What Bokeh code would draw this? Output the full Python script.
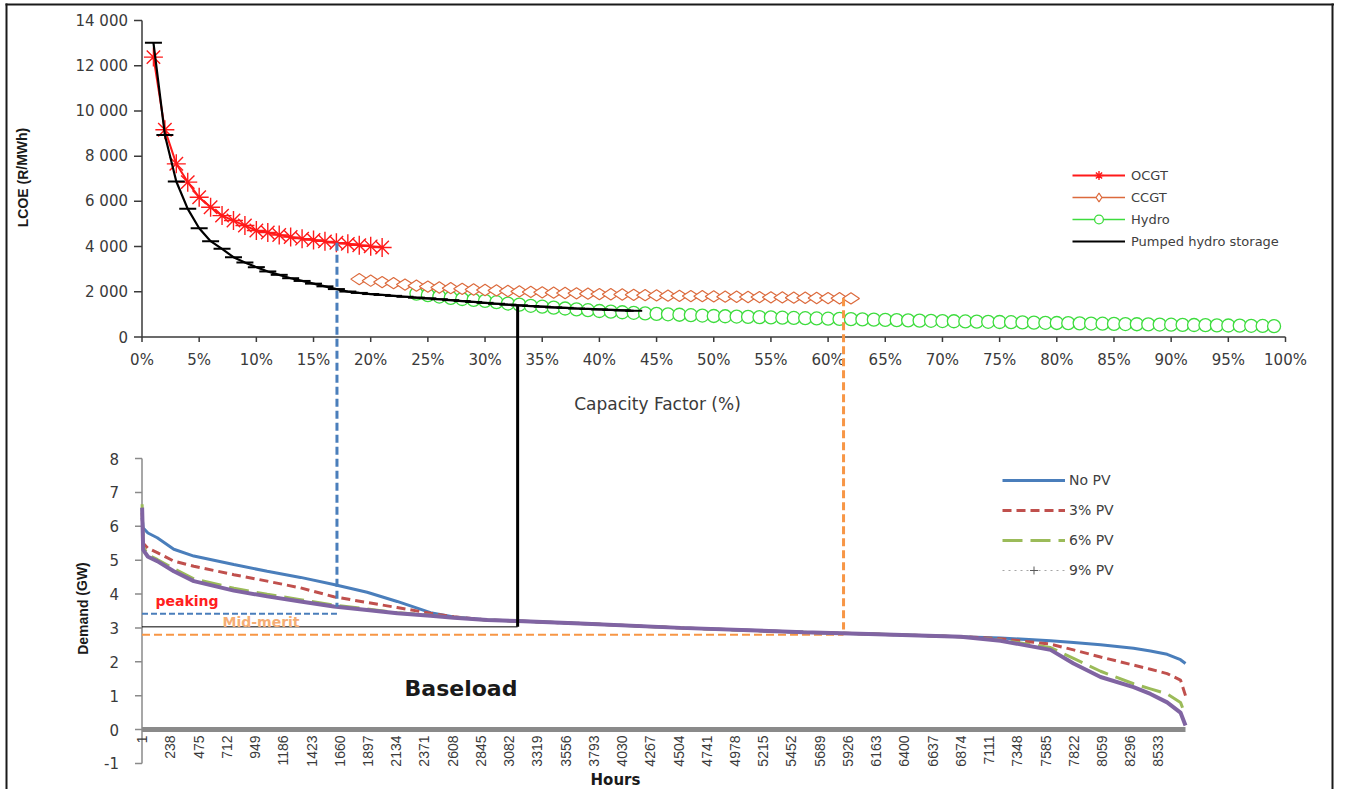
import numpy as np
from bokeh.plotting import figure
from bokeh.models import Range1d, Legend, LegendItem
from bokeh.core.properties import value
from bokeh.embed import file_html
from bokeh.resources import INLINE

# ---------------- top chart: LCOE (R/MWh) vs capacity factor (%) ----------------
ocgt_cf = [1, 2, 3, 4, 5, 6, 7, 8, 9, 10, 11, 12, 13, 14, 15, 16, 17, 18, 19, 20, 21]
ocgt_lcoe = [12380, 9170, 7660, 6850, 6180, 5740, 5370, 5150, 4930, 4710, 4620,
             4510, 4420, 4350, 4290, 4230, 4170, 4120, 4060, 4010, 3960]

phs_cf = list(range(1, 44))
phs_lcoe = [13020, 8940, 6880, 5670, 4810, 4240, 3900, 3530, 3300, 3090,
            2900, 2750, 2600, 2480, 2360, 2240, 2120, 2010, 1950, 1900,
            1860, 1820, 1780, 1740, 1710, 1670, 1630, 1590, 1550, 1510,
            1470, 1430, 1400, 1370, 1340, 1310, 1290, 1260, 1240, 1220,
            1200, 1180, 1160]

ccgt_cf = list(range(19, 63))
ccgt_lcoe = [2560, 2490, 2430, 2380, 2320, 2270, 2230, 2190, 2160, 2130,
             2100, 2080, 2060, 2035, 2015, 1995, 1975, 1960, 1945, 1930,
             1915, 1900, 1890, 1880, 1865, 1850, 1840, 1830, 1820, 1810,
             1805, 1795, 1785, 1780, 1770, 1765, 1755, 1750, 1740, 1735,
             1725, 1720, 1715, 1705]

hydro_cf = list(range(24, 100))
hydro_lcoe = [1920, 1850, 1790, 1730, 1680, 1640, 1600, 1540, 1480, 1430,
              1380, 1340, 1300, 1260, 1220, 1185, 1150, 1120, 1095, 1070,
              1045, 1025, 1005, 985, 965, 948, 930, 917, 904, 891,
              878, 866, 854, 842, 831, 820, 810, 800, 790, 779,
              768, 757, 746, 736, 726, 716, 706, 696, 688, 680,
              672, 664, 655, 646, 637, 628, 620, 612, 604, 596,
              588, 580, 572, 565, 558, 551, 544, 537, 530, 523,
              516, 509, 502, 495, 488, 481]

lcoe_ticks = [0, 2000, 4000, 6000, 8000, 10000, 12000, 14000]
lcoe_tick_labels = ["0", "2 000", "4 000", "6 000", "8 000", "10 000", "12 000", "14 000"]
cf_ticks = [0, 5, 10, 15, 20, 25, 30, 35, 40, 45, 50, 55, 60, 65, 70, 75, 80, 85, 90, 95, 100]
cf_tick_labels = ["0%", "5%", "10%", "15%", "20%", "25%", "30%", "35%", "40%", "45%", "50%",
                  "55%", "60%", "65%", "70%", "75%", "80%", "85%", "90%", "95%", "100%"]

# ---------------- bottom chart: load duration curves (GW) ----------------
hours = [1, 10, 50, 128, 267, 435, 771, 1051, 1331, 1610, 1890, 2142, 2422, 2618, 2898,
         3153, 3681, 4521, 5551, 6100, 6874, 7207, 7627, 7820, 8047, 8324, 8466, 8606, 8718, 8760]
no_pv = [6.25, 5.95, 5.80, 5.66, 5.32, 5.12, 4.87, 4.67, 4.49, 4.28, 4.05, 3.78, 3.45, 3.32, 3.23,
         3.20, 3.13, 3.00, 2.87, 2.82, 2.74, 2.70, 2.62, 2.57, 2.50, 2.40, 2.32, 2.22, 2.06, 1.95]
pv3 = [6.40, 5.50, 5.35, 5.22, 4.97, 4.82, 4.57, 4.38, 4.18, 3.92, 3.75, 3.60, 3.43, 3.33, 3.23,
       3.20, 3.13, 3.00, 2.87, 2.82, 2.74, 2.68, 2.52, 2.35, 2.14, 1.90, 1.78, 1.65, 1.46, 1.00]
pv6 = [6.65, 5.40, 5.15, 5.02, 4.75, 4.45, 4.17, 3.99, 3.83, 3.67, 3.56, 3.45, 3.37, 3.31, 3.23,
       3.20, 3.13, 3.00, 2.87, 2.82, 2.74, 2.64, 2.42, 2.10, 1.72, 1.35, 1.20, 1.05, 0.80, 0.42]
pv9 = [6.55, 5.30, 5.10, 4.97, 4.67, 4.38, 4.10, 3.93, 3.78, 3.63, 3.53, 3.43, 3.36, 3.30, 3.23,
       3.20, 3.13, 3.00, 2.87, 2.82, 2.74, 2.62, 2.35, 1.95, 1.55, 1.25, 1.05, 0.80, 0.50, 0.12]

gw_ticks = [-1, 0, 1, 2, 3, 4, 5, 6, 7, 8]
gw_tick_labels = ["-1", "0", "1", "2", "3", "4", "5", "6", "7", "8"]
hour_ticks = [1, 238, 475, 712, 949, 1186, 1423, 1660, 1897, 2134, 2371, 2608, 2845, 3082,
              3319, 3556, 3793, 4030, 4267, 4504, 4741, 4978, 5215, 5452, 5689, 5926, 6163,
              6400, 6637, 6874, 7111, 7348, 7585, 7822, 8059, 8296, 8533]
hour_tick_labels = [str(h) for h in hour_ticks]

# connectors: (capacity factor, LCOE at top, GW at bottom, GW level of horizontal)
peak_cf, peak_top, peak_bottom, peak_level = 17.05, 4170, 3.62, 3.42
base_cf, base_top, base_bottom, base_level = 32.85, 1400, 3.03, 3.03
mid_cf, mid_top, mid_bottom, mid_level = 61.35, 1710, 2.95, 2.80

# ---------------- layout (canvas pixels) ----------------
W, H = 1334, 789
CF_PX = (141.5, 1285.0)     # canvas x of 0 % and 100 %
LCOE_PX = (336.5, 20.0)     # canvas y of 0 and 14000
HRS_PX = (141.5, 1185.0)    # canvas x of hour 0 and 8760
GW_PX = (729.0, 458.0)      # canvas y of 0 GW and 8 GW


def x_rng(v0, v1, p0, p1):
    s = (p1 - p0) / (v1 - v0)
    return Range1d(v0 - p0 / s, v0 + (W - p0) / s)


def y_rng(v0, v1, p0, p1):
    s = (p0 - p1) / (v1 - v0)
    return Range1d(v0 - (H - p0) / s, v0 + p0 / s)


def y_px(v, v0, v1, p0, p1):
    s = (p0 - p1) / (v1 - v0)
    return p0 - (v - v0) * s


p = figure(width=W, height=H, x_range=Range1d(0, W), y_range=Range1d(H, 0),
           output_backend="svg", toolbar_location=None, min_border=0,
           x_axis_location=None, y_axis_location=None, outline_line_color=None,
           background_fill_color="white", border_fill_color="white")
p.grid.visible = False
p.extra_x_ranges = {"cf": x_rng(0, 100, *CF_PX), "hrs": x_rng(0, 8760, *HRS_PX)}
p.extra_y_ranges = {"lcoe": y_rng(0, 14000, *LCOE_PX), "gw": y_rng(0, 8, *GW_PX)}

T = dict(x_range_name="cf", y_range_name="lcoe")
B = dict(x_range_name="hrs", y_range_name="gw")
FONT = value("DejaVu Sans")
FONT_N = value("Liberation Sans")
TXT = "#3a3a3a"
AX = "#3a3a3a"
GREY = "#8a8a8a"

# frame border (left, top, right)
p.segment(x0=[6, 5, W - 2], y0=[3, 4, 3], x1=[6, W, W - 2], y1=[H, 4, H],
          line_color="#1a1a1a", line_width=2)

# ---------------- top chart ----------------
HYDRO = "#3ddc3d"
CCGT = "#dc6a3c"
OCGT = "#ff1a1a"

r_hyd_l = p.line(hydro_cf, hydro_lcoe, line_color=HYDRO, line_width=1.5, **T)
r_hyd_m = p.scatter(hydro_cf, hydro_lcoe, marker="circle", size=13, line_color=HYDRO,
                    fill_color="white", line_width=1.3, **T)
r_ccgt_l = p.line(ccgt_cf, ccgt_lcoe, line_color=CCGT, line_width=1.5, **T)
r_ccgt_m = p.scatter(ccgt_cf, ccgt_lcoe, marker="diamond", angle=1.5708, size=17,
                     line_color=CCGT, fill_color="white", line_width=1.2, **T)
r_ocgt_l = p.line(ocgt_cf, ocgt_lcoe, line_color=OCGT, line_width=2, **T)
r_ocgt_m = p.scatter(ocgt_cf, ocgt_lcoe, marker="asterisk", size=19, line_color=OCGT,
                     line_width=1.4, **T)
r_phs_l = p.line(phs_cf, phs_lcoe, line_color="black", line_width=2.2, **T)
p.scatter(phs_cf, phs_lcoe, marker="dash", size=17, line_color="black", line_width=2, **T)

# axes of the top chart
p.segment(x0=[0, 0], y0=[0, 0], x1=[0, 100], y1=[14000, 0], line_color=AX, line_width=1.5, **T)
p.segment(x0=CF_PX[0] - 8, x1=CF_PX[0], y0=lcoe_ticks, y1=lcoe_ticks, line_color=AX,
          line_width=1.5, y_range_name="lcoe")
p.segment(x0=cf_ticks, x1=cf_ticks, y0=LCOE_PX[0], y1=LCOE_PX[0] + 5, line_color=AX,
          line_width=1.5, x_range_name="cf")
p.text(x=CF_PX[0] - 14, y=lcoe_ticks, text=lcoe_tick_labels, y_range_name="lcoe",
       text_align="right", text_baseline="middle", text_font=FONT,
       text_font_size=value("15px"), text_color=TXT)
p.text(x=cf_ticks, y=LCOE_PX[0] + 23, text=cf_tick_labels, x_range_name="cf",
       text_align="center", text_baseline="middle", text_font=FONT,
       text_font_size=value("15px"), text_color=TXT)
p.text(x=[22], y=[177], text=["LCOE (R/MWh)"], angle=1.5708, text_align="center",
       text_baseline="middle", text_font=FONT_N, text_font_style="bold",
       text_font_size=value("14px"), text_color="#1a1a1a")
p.text(x=[657], y=[403], text=["Capacity Factor (%)"], text_align="center",
       text_baseline="middle", text_font=FONT, text_font_size=value("17px"),
       text_color=TXT)

# ---------------- bottom chart ----------------
C_NO = "#4a7ebb"
C_3 = "#c0504d"
C_6 = "#9bbb59"
C_9 = "#8064a2"

# axes
p.segment(x0=[0], y0=[-1], x1=[0], y1=[8], line_color=GREY, line_width=1.5, **B)
p.segment(x0=HRS_PX[0] - 7, x1=HRS_PX[0], y0=gw_ticks, y1=gw_ticks, line_color=GREY,
          line_width=1.5, y_range_name="gw")
p.text(x=HRS_PX[0] - 23, y=gw_ticks, text=gw_tick_labels, y_range_name="gw",
       text_align="right", text_baseline="middle", text_font=FONT,
       text_font_size=value("15px"), text_color=TXT)
p.text(x=hour_ticks, y=GW_PX[0] + 6, text=hour_tick_labels, x_range_name="hrs",
       angle=1.5708, text_align="right", text_baseline="middle", text_font=FONT_N,
       text_font_size=value("14px"), text_color=TXT)
p.text(x=[82], y=[608], text=["Demand (GW)"], angle=1.5708, text_align="center",
       text_baseline="middle", text_font=FONT_N, text_font_style="bold",
       text_font_size=value("14px"), text_color="#1a1a1a")
p.text(x=[615], y=[779], text=["Hours"], text_align="center", text_baseline="middle",
       text_font=FONT, text_font_style="bold", text_font_size=value("15px"),
       text_color="#1a1a1a")

# level lines
p.segment(x0=[0], x1=[mid_cf], y0=[mid_level], y1=[mid_level], x_range_name="cf",
          y_range_name="gw", line_color="#f79646", line_width=2, line_dash="8 4")
p.segment(x0=[0], x1=[base_cf], y0=[base_level], y1=[base_level], x_range_name="cf",
          y_range_name="gw", line_color="black", line_width=1)
p.segment(x0=[0], x1=[peak_cf], y0=[peak_level], y1=[peak_level], x_range_name="cf",
          y_range_name="gw", line_color=C_NO, line_width=2, line_dash="6 3")

# load duration curves
r_no = p.line(hours, no_pv, line_color=C_NO, line_width=3, **B)
r_3 = p.line(hours, pv3, line_color=C_3, line_width=3, line_dash="9 5", **B)
r_6 = p.line(hours, pv6, line_color=C_6, line_width=3, line_dash="20 8", **B)
p.line(hours, pv9, line_color=C_9, line_width=4, **B)
# legend-only glyph for the 9% PV entry (thin dotted line with a small cross)
nan_pt = [np.nan]
r_9l = p.line(x=nan_pt, y=nan_pt, line_color="#a6a6a6", line_width=1, line_dash="dotted")
r_9m = p.scatter(x=nan_pt, y=nan_pt, marker="cross", size=6, line_color="#595959", line_width=1)

# zero line of the category axis
p.segment(x0=[0], y0=[0], x1=[8760], y1=[0], line_color=GREY, line_width=5, **B)

# connectors between the two charts
for cf_v, top_v, bot_v, col, dash, lw in [
        (peak_cf, peak_top, peak_bottom, C_NO, "8 4", 3),
        (base_cf, base_top, base_bottom, "black", "solid", 3),
        (mid_cf, mid_top, mid_bottom, "#f79646", "8 4", 3)]:
    p.segment(x0=[cf_v], x1=[cf_v], y0=[y_px(top_v, 0, 14000, *LCOE_PX)],
              y1=[y_px(bot_v, 0, 8, *GW_PX)], x_range_name="cf",
              line_color=col, line_width=lw, line_dash=dash)

# annotations
p.text(x=[113], y=[3.78], text=["peaking"], text_align="left", text_baseline="middle",
       text_font=FONT, text_font_style="bold", text_font_size=value("14px"),
       text_color="#ff2020", **B)
p.text(x=[676], y=[3.18], text=["Mid-merit"], text_align="left", text_baseline="middle",
       text_font=FONT, text_font_style="bold", text_font_size=value("14px"),
       text_color="#f5ad74", **B)
p.text(x=[2204], y=[1.21], text=["Baseload"], text_align="left", text_baseline="middle",
       text_font=FONT, text_font_style="bold", text_font_size=value("22px"),
       text_color="#1a1a1a", **B)

# ---------------- legends ----------------
leg_top = Legend(items=[
    LegendItem(label="OCGT", renderers=[r_ocgt_l, r_ocgt_m]),
    LegendItem(label="CCGT", renderers=[r_ccgt_l, r_ccgt_m]),
    LegendItem(label="Hydro", renderers=[r_hyd_l, r_hyd_m]),
    LegendItem(label="Pumped hydro storage", renderers=[r_phs_l]),
], location=(1072, 537), orientation="vertical", glyph_width=53, glyph_height=22,
    label_height=22, spacing=0, padding=0, margin=0, label_standoff=6,
    border_line_color=None, background_fill_alpha=0, label_text_font="DejaVu Sans",
    label_text_font_size="13px", label_text_color="#404040")
p.add_layout(leg_top)

leg_bot = Legend(items=[
    LegendItem(label="No PV", renderers=[r_no]),
    LegendItem(label="3% PV", renderers=[r_3]),
    LegendItem(label="6% PV", renderers=[r_6]),
    LegendItem(label="9% PV", renderers=[r_9l, r_9m]),
], location=(1002, 209), orientation="vertical", glyph_width=63, glyph_height=20,
    label_height=20, spacing=10, padding=0, margin=0, label_standoff=4,
    border_line_color=None, background_fill_alpha=0, label_text_font="DejaVu Sans",
    label_text_font_size="14px", label_text_color="#404040")
p.add_layout(leg_bot)

open("out.html", "w").write(file_html(p, INLINE))
